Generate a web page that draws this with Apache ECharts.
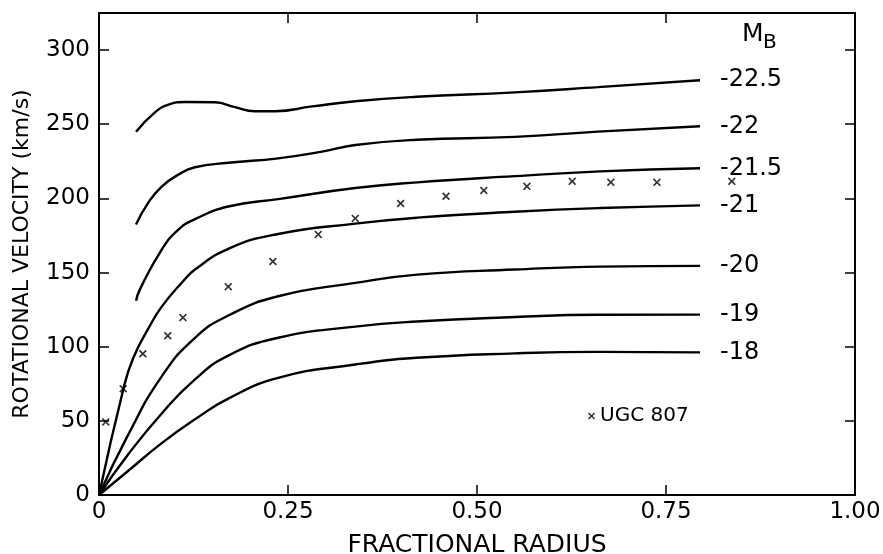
<!DOCTYPE html>
<html>
<head>
<meta charset="utf-8">
<script src="https://cdn.jsdelivr.net/npm/echarts@6/dist/echarts.min.js"></script>
<style>
  html, body { margin: 0; padding: 0; background: #fff; }
  #chart { width: 883px; height: 554px; }
</style>
</head>
<body>
<div id="chart"></div>
<script>
// magnitude labels for the model curves
const magnitudes = ['-22.5', '-22', '-21.5', '-21', '-20', '-19', '-18'];

// model rotation curves, [fractional radius, velocity]
const curve225 = [[0.049, 245], [0.074, 258], [0.091, 263], [0.114, 265], [0.153, 264.8], [0.18, 261.5], [0.206, 258.8], [0.233, 258.8], [0.282, 262], [0.339, 265.5], [0.42, 268.5], [0.55, 271.5], [0.66, 275], [0.795, 279.7]];
const curve22 = [[0.049, 182.4], [0.065, 197], [0.083, 208], [0.105, 216], [0.127, 221], [0.171, 224], [0.237, 227], [0.295, 231.5], [0.339, 236], [0.42, 239.5], [0.55, 241.5], [0.66, 245], [0.795, 248.6]];
const curve215 = [[0.049, 131], [0.054, 138.5], [0.083, 165.5], [0.105, 179], [0.127, 186], [0.171, 194.5], [0.237, 199.5], [0.339, 207], [0.421, 210.8], [0.55, 215], [0.663, 218.2], [0.795, 220.3]];
const curve21 = [[0, 0], [0.032, 71], [0.045, 92], [0.065, 112], [0.083, 127], [0.111, 144], [0.127, 152], [0.171, 166], [0.237, 176], [0.339, 183], [0.421, 187], [0.55, 191], [0.663, 193.5], [0.795, 195.3]];
const curve20 = [[0, 0], [0.038, 40], [0.083, 80], [0.127, 106], [0.171, 121], [0.237, 134], [0.339, 143], [0.421, 148.6], [0.55, 152], [0.663, 154], [0.795, 154.5]];
const curve19 = [[0, 0], [0.038, 27], [0.083, 55], [0.127, 78], [0.171, 94], [0.237, 106], [0.339, 113.5], [0.42, 117], [0.55, 120], [0.66, 121.5], [0.795, 121.6]];
const curve18 = [[0, 0], [0.038, 16], [0.083, 35], [0.127, 51], [0.171, 65], [0.237, 79], [0.339, 88], [0.42, 92.5], [0.55, 95.5], [0.66, 96.5], [0.795, 96.2]];

// observed points for UGC 807
const ugc807 = [[0.009, 49.3], [0.032, 71.6], [0.058, 95.2], [0.091, 107.4], [0.111, 119.6], [0.171, 140.5], [0.23, 157.4], [0.29, 175.7], [0.339, 186.5], [0.399, 196.6], [0.459, 201.4], [0.509, 205.4], [0.566, 208.1], [0.626, 211.5], [0.677, 210.8], [0.738, 210.8], [0.837, 211.5]];

const xTicks = [0, 0.25, 0.5, 0.75, 1];
const yTicks = [0, 50, 100, 150, 200, 250, 300];

const curves = [curve225, curve22, curve215, curve21, curve20, curve19, curve18];
const font = 'DejaVu Sans';
const crossPath = 'path://M0,1.5L1.5,0L5,3.5L8.5,0L10,1.5L6.5,5L10,8.5L8.5,10L5,6.5L1.5,10L0,8.5L3.5,5Z';

const chart = echarts.init(document.getElementById('chart'));

const lineSeries = curves.map((pts, i) => ({
  name: magnitudes[i],
  type: 'line',
  data: pts,
  smooth: 0.5,
  showSymbol: false,
  lineStyle: { color: '#000', width: 2.4 },
  endLabel: {
    show: true,
    formatter: magnitudes[i],
    distance: 20,
    color: '#000',
    fontSize: 24,
    fontFamily: font
  },
  silent: true
}));

const axisCommon = {
  axisLine: { show: true, onZero: false, lineStyle: { color: '#000', width: 2 } },
  axisTick: { show: true, inside: true, length: 10, lineStyle: { color: '#000', width: 1.5 } },
  splitLine: { show: false }
};

chart.setOption({
  animation: false,
  backgroundColor: '#fff',
  grid: { left: 99, top: 13, right: 28, bottom: 59, containLabel: false, outerBoundsMode: 'none' },
  legend: {
    data: ['UGC 807'],
    left: 588,
    top: 406,
    padding: 0,
    itemWidth: 7,
    itemHeight: 7,
    itemGap: 0,
    icon: crossPath,
    textStyle: { fontSize: 20, fontFamily: font, color: '#000' },
    selectedMode: false
  },
  graphic: [
    { type: 'text', left: 742, top: 22, style: { text: 'M', fontSize: 25, fontFamily: font, fill: '#000' } },
    { type: 'text', left: 763, top: 33, style: { text: 'B', fontSize: 20, fontFamily: font, fill: '#000' } }
  ],
  xAxis: [
    Object.assign({
      type: 'value',
      min: xTicks[0],
      max: xTicks[xTicks.length - 1],
      interval: 0.25,
      name: 'FRACTIONAL RADIUS',
      nameLocation: 'middle',
      nameGap: 38,
      nameTextStyle: { fontSize: 25, fontFamily: font, color: '#000' },
      axisLabel: {
        margin: 6,
        fontSize: 23,
        fontFamily: font,
        color: '#000',
        formatter: v => (v === 0 ? '0' : v.toFixed(2))
      }
    }, axisCommon),
    Object.assign({
      type: 'value',
      position: 'top',
      min: xTicks[0],
      max: xTicks[xTicks.length - 1],
      interval: 0.25,
      axisLabel: { show: false }
    }, axisCommon)
  ],
  yAxis: [
    Object.assign({
      type: 'value',
      min: yTicks[0],
      max: 325,
      interval: 50,
      name: 'ROTATIONAL VELOCITY (km/s)',
      nameLocation: 'middle',
      nameGap: 66,
      nameTextStyle: { fontSize: 22, fontFamily: font, color: '#000' },
      axisLabel: {
        margin: 9,
        fontSize: 23,
        fontFamily: font,
        color: '#000',
        formatter: v => (yTicks.indexOf(v) >= 0 ? String(v) : '')
      }
    }, axisCommon),
    Object.assign({
      type: 'value',
      position: 'right',
      min: yTicks[0],
      max: 325,
      interval: 50,
      axisLabel: { show: false }
    }, axisCommon)
  ],
  series: lineSeries.concat([{
    name: 'UGC 807',
    type: 'scatter',
    data: ugc807,
    symbol: crossPath,
    symbolSize: 8,
    itemStyle: { color: '#000' },
    silent: true
  }])
});
</script>
</body>
</html>
